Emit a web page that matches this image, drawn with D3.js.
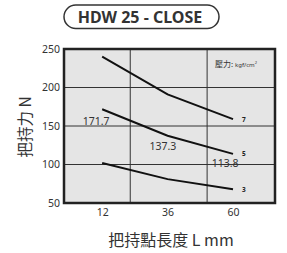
<!DOCTYPE html>
<html>
<head>
<meta charset="utf-8">
<script src="https://cdn.jsdelivr.net/npm/d3@7"></script>
<style>
  body { margin: 0; background: #fff; }
  svg { display: block; font-family: "Noto Sans", "Noto Sans CJK TC", sans-serif; }
</style>
</head>
<body>
<svg id="chart" width="287" height="253"></svg>
<script>
// data
const lengths = [12, 36, 60];
const pressures = ["7", "5", "3"];
const force7 = [240, 191, 159];
const force5 = [171.7, 137.3, 113.8];
const force3 = [102, 81, 68];
const yTicks = [50, 100, 150, 200, 250];
const gridX = [22.3, 50.5];
const valueLabels = [171.7, 137.3, 113.8];
// where the value labels sit, in data units [length, force]
const labelPos = [[9.8, 155.6], [34.3, 123.1], [57.1, 100.3]];

const series = [force7, force5, force3];

const svg = d3.select("#chart");
const margin = { left: 64, right: 275, top: 49, bottom: 203 };

const x = d3.scaleLinear().domain([-2, 75.4]).range([margin.left, margin.right]);
const y = d3.scaleLinear().domain([50, 250]).range([margin.bottom, margin.top]);

// title pill
svg.append("rect")
    .attr("x", 64).attr("y", 5)
    .attr("width", 155).attr("height", 23.5)
    .attr("rx", 11.75)
    .attr("fill", "#fff")
    .attr("stroke", "#333")
    .attr("stroke-width", 1.5);
svg.append("text")
    .attr("x", 140).attr("y", 22.5)
    .attr("text-anchor", "middle")
    .attr("font-weight", "bold")
    .attr("font-size", 16)
    .attr("fill", "#333")
    .text("HDW 25 - CLOSE");

// plot area
svg.append("rect")
    .attr("x", margin.left).attr("y", margin.top)
    .attr("width", margin.right - margin.left)
    .attr("height", margin.bottom - margin.top)
    .attr("fill", "#e5e5e5");

// gridlines
svg.append("g")
    .selectAll("line")
    .data(yTicks.slice(1, -1))
    .enter().append("line")
    .attr("x1", margin.left).attr("x2", margin.right)
    .attr("y1", d => y(d)).attr("y2", d => y(d))
    .attr("stroke", "#333").attr("stroke-width", 1);

svg.append("g")
    .selectAll("line")
    .data(gridX)
    .enter().append("line")
    .attr("x1", d => x(d)).attr("x2", d => x(d))
    .attr("y1", margin.top).attr("y2", margin.bottom)
    .attr("stroke", "#333").attr("stroke-width", 1);

// frame
svg.append("rect")
    .attr("x", margin.left).attr("y", margin.top)
    .attr("width", margin.right - margin.left)
    .attr("height", margin.bottom - margin.top)
    .attr("fill", "none")
    .attr("stroke", "#222")
    .attr("stroke-width", 2.5);

// y axis
const yAxis = svg.append("g")
    .attr("transform", `translate(${margin.left},0)`)
    .call(d3.axisLeft(y).tickValues(yTicks).tickSize(0).tickPadding(4));
yAxis.select(".domain").remove();
yAxis.selectAll("text")
    .attr("font-size", 10.5)
    .attr("font-family", "Noto Sans, sans-serif")
    .attr("fill", "#333");

// x axis
const xAxis = svg.append("g")
    .attr("transform", `translate(0,${margin.bottom})`)
    .call(d3.axisBottom(x).tickValues(lengths).tickSize(0).tickPadding(6));
xAxis.select(".domain").remove();
xAxis.selectAll("text")
    .attr("font-size", 10.5)
    .attr("font-family", "Noto Sans, sans-serif")
    .attr("fill", "#333");

// lines
const line = d3.line()
    .x((d, i) => x(lengths[i]))
    .y(d => y(d));

svg.append("g")
    .selectAll("path")
    .data(series)
    .enter().append("path")
    .attr("d", line)
    .attr("fill", "none")
    .attr("stroke", "#111")
    .attr("stroke-width", 2);

// series labels
svg.append("g")
    .selectAll("text")
    .data(series)
    .enter().append("text")
    .attr("x", x(60) + 9)
    .attr("y", d => y(d[2]) + 2.5)
    .attr("font-size", 6.5)
    .attr("font-weight", "bold")
    .attr("fill", "#222")
    .text((d, i) => pressures[i]);

// value labels on the 5 line
svg.append("g")
    .selectAll("text")
    .data(valueLabels)
    .enter().append("text")
    .attr("x", (d, i) => x(labelPos[i][0]))
    .attr("y", (d, i) => y(labelPos[i][1]))
    .attr("text-anchor", "middle")
    .attr("dominant-baseline", "middle")
    .attr("font-size", 10.5)
    .attr("fill", "#333")
    .text(d => d);

// pressure unit note
const note = svg.append("text")
    .attr("x", 215).attr("y", 66.5)
    .attr("fill", "#333");
note.append("tspan")
    .attr("font-family", "Noto Sans CJK TC")
    .attr("font-size", 8)
    .text("壓力: ");
note.append("tspan")
    .attr("font-size", 6)
    .text("kgf/cm");
note.append("tspan")
    .attr("font-size", 4)
    .attr("dy", -3)
    .text("2");

// axis titles
svg.append("text")
    .attr("transform", `translate(31,127) rotate(-90)`)
    .attr("text-anchor", "middle")
    .attr("font-family", "Noto Sans CJK TC")
    .attr("font-size", 15.5)
    .attr("fill", "#333")
    .text("把持力 N");

svg.append("text")
    .attr("x", 171).attr("y", 246)
    .attr("text-anchor", "middle")
    .attr("font-family", "Noto Sans CJK TC")
    .attr("font-size", 16)
    .attr("fill", "#333")
    .text("把持點長度 L mm");
</script>
</body>
</html>
